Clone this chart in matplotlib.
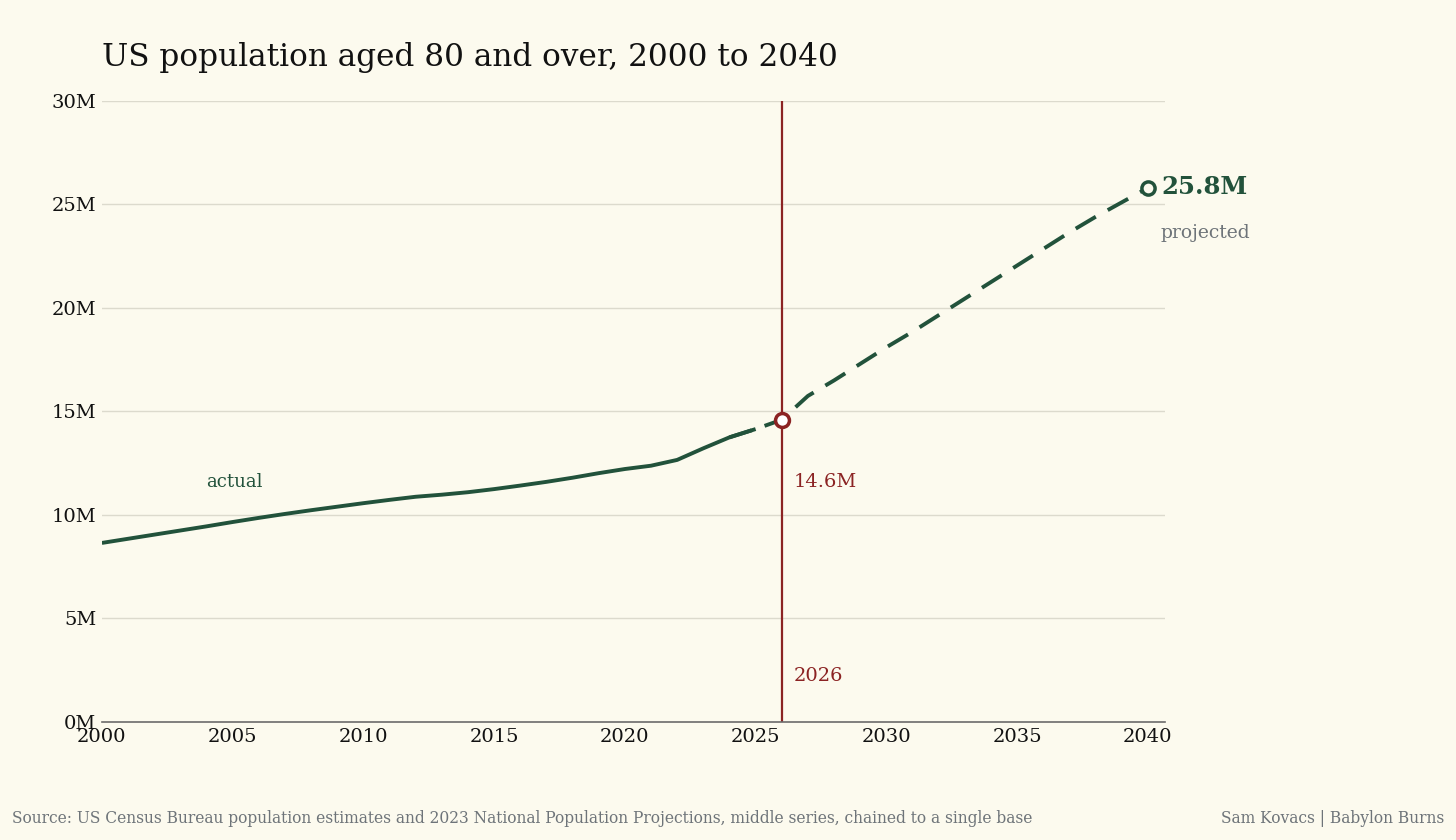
import matplotlib.pyplot as plt
import numpy as np

# US population aged 80+ (millions)
actual_years = np.arange(2000, 2027)
actual_vals = [8.65, 8.85, 9.05, 9.25, 9.45, 9.66, 9.86, 10.05, 10.23, 10.4,
               10.57, 10.73, 10.88, 10.98, 11.1, 11.25, 11.42, 11.6, 11.8, 12.02,
               12.22, 12.38, 12.66, 13.22, 13.75, 14.15, 14.6]
proj_years = np.arange(2024, 2041)
proj_vals = [13.75, 14.15, 14.6, 15.75, 16.5, 17.3, 18.1, 18.85, 19.65, 20.45,
             21.25, 22.05, 22.85, 23.65, 24.4, 25.1, 25.8]
y_ticks = [0, 5, 10, 15, 20, 25, 30]
x_ticks = [2000, 2005, 2010, 2015, 2020, 2025, 2030, 2035, 2040]
base_year = 2026
base_val = 14.6

BG = '#fcfaee'
GREEN = '#22523b'
RED = '#8b2323'
GRAY = '#6e7479'

plt.rcParams['font.family'] = ['DejaVu Serif']

fig = plt.figure(figsize=(14.56, 8.4), dpi=100, facecolor=BG)
ax = fig.add_axes([0.070, 0.1405, 0.730, 0.7393], facecolor=BG)

for yv in y_ticks[1:]:
    ax.axhline(yv, color='#dcdacd', linewidth=1, zorder=0)

ax.plot(actual_years[actual_years <= 2025], actual_vals[:26], color=GREEN, lw=2.8,
        solid_capstyle='butt', zorder=3)
ax.plot(proj_years, proj_vals, color=GREEN, lw=2.8, dashes=(6, 3.5), zorder=3)

ax.axvline(base_year, color=RED, lw=1.6, zorder=2)
ax.plot([base_year], [base_val], 'o', ms=10, mfc='white', mec=RED, mew=2.5, zorder=5)
ax.plot([proj_years[-1]], [proj_vals[-1]], 'o', ms=9.5, mfc=BG, mec=GREEN, mew=2.5, zorder=5)

ax.text(2004, 11.6, 'actual', color=GREEN, fontsize=13, va='center')
ax.text(base_year + 0.45, 11.6, f'{base_val}M', color=RED, fontsize=14, va='center')
ax.text(base_year + 0.45, 2.2, str(base_year), color=RED, fontsize=14, va='center')
ax.text(proj_years[-1] + 0.5, 25.85, f'{proj_vals[-1]}M', color=GREEN, fontsize=17.6,
        fontweight='bold', va='center')
ax.text(proj_years[-1] + 0.5, 23.6, 'projected', color=GRAY, fontsize=13.5, va='center')

ax.set_xlim(2000, 2040.65)
ax.set_ylim(0, 30)
ax.set_yticks(y_ticks)
ax.set_yticklabels([f'{v}M' for v in y_ticks])
ax.set_xticks(x_ticks)
ax.tick_params(axis='both', length=0, labelsize=14, colors='#111111')
ax.tick_params(axis='x', pad=4)
ax.tick_params(axis='y', pad=4)
for s in ['top', 'right', 'left']:
    ax.spines[s].set_visible(False)
ax.spines['bottom'].set_color('#6b6b6b')
ax.spines['bottom'].set_linewidth(1.2)

fig.text(0.070, 0.932, 'US population aged 80 and over, 2000 to 2040', fontsize=22.4,
         color='#111111', va='center')
fig.text(0.008, 0.026, 'Source: US Census Bureau population estimates and 2023 National '
         'Population Projections, middle series, chained to a single base',
         fontsize=11.2, color=GRAY, va='center')
fig.text(0.992, 0.026, 'Sam Kovacs | Babylon Burns', fontsize=11.2, color=GRAY,
         va='center', ha='right')

fig.savefig('out.png', dpi=100, facecolor=BG)
